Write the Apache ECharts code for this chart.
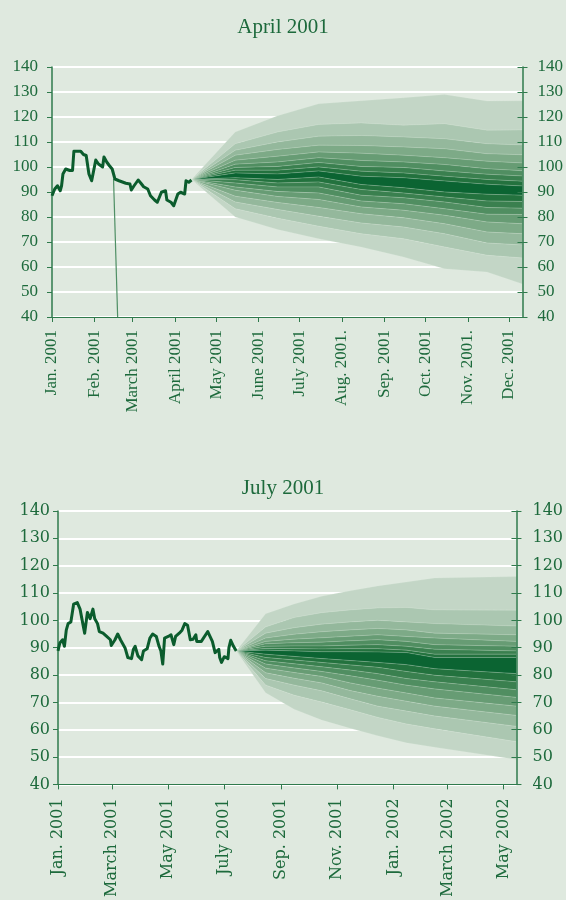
<!DOCTYPE html>
<html>
<head>
<meta charset="utf-8">
<script src="https://cdn.jsdelivr.net/npm/echarts@6/dist/echarts.min.js"></script>
<style>
html, body { margin: 0; padding: 0; background: #dfe9df; }
#chart { width: 566px; height: 900px; }
</style>
</head>
<body>
<div id="chart"></div>
<script>
// April 2001 chart: history
var aprDates = ['2001-01-01','2001-01-03','2001-01-05','2001-01-07','2001-01-08','2001-01-09','2001-01-11','2001-01-14','2001-01-16','2001-01-17',
    '2001-01-22','2001-01-24','2001-01-26','2001-01-28','2001-01-30','2001-02-02','2001-02-04','2001-02-07','2001-02-08','2001-02-10',
    '2001-02-12','2001-02-14','2001-02-16','2001-02-19','2001-02-24','2001-02-27','2001-02-28','2001-03-02','2001-03-05','2001-03-07',
    '2001-03-09','2001-03-12','2001-03-14','2001-03-17','2001-03-19','2001-03-22','2001-03-25','2001-03-26','2001-03-29','2001-03-31',
    '2001-04-03','2001-04-05','2001-04-08','2001-04-09','2001-04-11','2001-04-13'];
var aprValues = [88.5,91.2,92.5,90.5,92.5,97.2,99.2,98.6,98.6,106.3,
    106.3,105,104.6,97.2,94.5,102.8,101.2,100,104,102,
    100.5,99.2,95.2,94.5,93.5,93.2,90.8,92.5,94.8,93.5,
    92.1,91.2,88.5,86.8,85.9,89.9,90.5,86.8,85.9,84.5,
    89.2,89.9,89.2,94.5,93.9,94.8];
// thin stray line in the original graphic
var aprSpikeDates = ['2001-02-15','2001-02-18'];
var aprSpikeValues = [95.2, 40];

// April 2001 chart: fan bands, boundaries from top to bottom
var aprFanDates = ['2001-04-13','2001-05-15','2001-06-15','2001-07-15','2001-08-15','2001-09-15','2001-10-15','2001-11-15','2001-12-11'];
var aprFanBounds = [
    [95,95,95,95,95,95,95,95,95,95,95,95,95,95,95,95,95,95],
    [114,109.3,106.7,104.7,102.7,101.1,99.8,98.7,97.6,95.7,94.9,93.6,92,90.7,88.3,86,83.3,80],
    [120.5,114,110,107,104.3,102,100.2,98.7,97.2,95,93.6,92,90.2,88.2,85.8,83,79.5,75],
    [125.3,117,112.3,108.7,106,103.7,101.8,100,98.4,96,94,92,89.6,87,83.8,80.3,76.3,71.3],
    [126.5,117.6,112.6,108.6,105.5,102.6,100.2,98.3,96.3,93,91,88.7,86.4,84,81.3,77.6,73.3,68],
    [127.7,116.7,112,108,104.7,102,99.8,97.6,95.7,91.7,89.6,87.7,85.3,82.7,79.7,76,71.3,64],
    [129,117.3,111.3,107.3,103.7,101,98.4,96.3,94.4,90,88,86,83.3,80.7,77.3,73.3,68,59.3],
    [126.4,114.7,109.3,105.3,102.3,99.3,97.1,95,93.1,89.1,86.4,83.8,81.1,78,74,69.6,64.7,58],
    [126.5,114.8,108.8,104.9,101.6,98.5,96.4,94.3,92.4,88.7,86.2,83.5,81,77.3,73.3,68.8,63.6,53.2]
];
var aprTickDates = ['2001-01-01','2001-02-01','2001-03-01','2001-04-01','2001-05-01','2001-06-01',
    '2001-07-01','2001-08-01','2001-09-01','2001-10-01','2001-11-01','2001-12-01'];
var aprTickLabels = ['Jan. 2001','Feb. 2001','March 2001','April 2001','May 2001','June 2001',
    'July 2001','Aug. 2001.','Sep. 2001','Oct. 2001','Nov. 2001.','Dec. 2001'];

// July 2001 chart: history
var julDates = ['2001-01-01','2001-01-03','2001-01-06','2001-01-08','2001-01-10','2001-01-12','2001-01-15','2001-01-17','2001-01-18','2001-01-22',
    '2001-01-25','2001-01-28','2001-01-30','2001-02-02','2001-02-05','2001-02-08','2001-02-10','2001-02-13','2001-02-15','2001-02-19',
    '2001-02-23','2001-02-27','2001-02-28','2001-03-04','2001-03-07','2001-03-10','2001-03-15','2001-03-18','2001-03-22','2001-03-24',
    '2001-03-26','2001-03-29','2001-04-02','2001-04-04','2001-04-08','2001-04-11','2001-04-14','2001-04-18','2001-04-21','2001-04-23',
    '2001-04-25','2001-04-27','2001-05-01','2001-05-02','2001-05-04','2001-05-07','2001-05-09','2001-05-13','2001-05-16','2001-05-19',
    '2001-05-22','2001-05-25','2001-05-28','2001-05-31','2001-06-01','2001-06-06','2001-06-08','2001-06-13','2001-06-15','2001-06-18',
    '2001-06-21','2001-06-25','2001-06-26','2001-06-28','2001-07-01','2001-07-05','2001-07-06','2001-07-08','2001-07-11','2001-07-14'];
var julValues = [88.8,91.7,92.9,90.5,96.4,98.8,99.4,98.8,105.9,106.5,
    104.1,98.8,95.3,102.9,100.6,104.1,100.6,98.8,95.9,95.3,
    94.1,92.9,90.8,92.9,95,92.9,89.9,86.4,86,89.3,
    90.5,87,85.6,88.8,89.6,93.5,95,94.1,90.5,88.8,
    84,93.5,94.1,93.5,94.7,91.1,94.1,95.3,96.4,98.8,
    98.2,92.9,93.1,94.7,92.3,92.3,91.7,95.9,95.3,92.3,
    88.2,89.4,86.4,84.6,86.7,86,89.9,92.7,90.5,88.8];

// July 2001 chart: fan bands, boundaries from top to bottom
var julFanDates = ['2001-07-14','2001-08-15','2001-09-15','2001-10-15','2001-11-15','2001-12-15','2002-01-15','2002-02-15','2002-05-15'];
var julFanBounds = [
    [88.8,88.8,88.8,88.8,88.8,88.8,88.8,88.8,88.8,88.8,88.8,88.8,88.8,88.8,88.8,88.8,88.8,88.8],
    [102.4,97.6,95.3,93.5,92.3,91.4,90.5,89.7,89.1,87.6,86.4,85.2,84,82.5,80.8,78.7,76.3,73.5],
    [106,101,97.3,94.9,93.1,91.8,90.6,89.6,88.8,86.8,85.5,84.1,82.6,80.9,78.8,76.3,72.6,67.5],
    [108.8,102.8,98.6,95.8,93.6,92,90.6,89.5,88.5,86,84.6,83,81.3,79.5,77.1,74.2,70.1,63.5],
    [110.8,103.8,99.4,96.5,94.2,92.5,90.9,89.6,88.5,85.3,83.7,81.8,79.7,77.1,74.3,71.3,67.3,60.5],
    [112.6,104.5,100,97,94.7,92.9,91.1,89.6,88.4,84.6,82.8,80.5,78.1,75.2,72.2,68.6,64.5,57.8],
    [114,104.7,99.4,96.5,94.1,92.3,90.5,89.1,88.2,83.8,81.3,78.7,76.3,73.4,70.4,66.8,62.1,55.2],
    [115.5,103.8,98.8,95.3,93.5,91.1,89.4,87.6,86.4,82.3,79.9,77.5,74.9,71.6,68.6,65,60.3,53.6],
    [116,103.7,97.9,94.7,92.3,90.5,88.8,87.6,86.4,80.5,77.5,74.6,71.8,68.6,65.2,61.2,55.6,49.1]
];
var julTickDates = ['2001-01-01','2001-03-01','2001-05-01','2001-07-01','2001-09-01','2001-11-01',
    '2002-01-01','2002-03-01','2002-05-01'];
var julTickLabels = ['Jan. 2001','March 2001','May 2001','July 2001','Sep. 2001','Nov. 2001',
    'Jan. 2002','March 2002','May 2002'];

// band shades, outer (light) to centre (dark)
var shades = ['#c3d6c6','#abc7b1','#94b89c','#7daa87','#679c74','#508e61','#3a804f','#23723e','#0b6432'];

var bgColor = '#dfe9df';
var textColor = '#1d6a3c';
var axisColor = '#2f7a4c';
var lineColor = '#0b5c2d';

function toTime(s) {
    var p = s.split('-');
    return new Date(+p[0], +p[1] - 1, +p[2]).getTime();
}
function pairs(dates, values) {
    var out = [];
    for (var i = 0; i < dates.length; i++) {
        out.push([toTime(dates[i]), values[i]]);
    }
    return out;
}

// one polygon per band, between boundary k and k+1
function fanSeries(axisIdx, dates, bounds) {
    var times = dates.map(toTime);
    var nBands = bounds[0].length - 1;
    var items = [];
    for (var k = 0; k < nBands; k++) {
        items.push([k, 0]);
    }
    return {
        type: 'custom', xAxisIndex: axisIdx, yAxisIndex: axisIdx * 3,
        silent: true, z: 2, data: items,
        renderItem: function (params, api) {
            var k = api.value(0);
            var pts = [];
            for (var j = 0; j < times.length; j++) {
                pts.push(api.coord([times[j], bounds[j][k]]));
            }
            for (var j2 = times.length - 1; j2 >= 0; j2--) {
                pts.push(api.coord([times[j2], bounds[j2][k + 1]]));
            }
            var mid = (nBands - 1) / 2;
            var shade = shades[Math.round(mid - Math.abs(k - mid))];
            return {
                type: 'polygon',
                shape: { points: pts },
                style: { fill: shade, stroke: 'rgba(225,238,226,0.35)', lineWidth: 0.5 }
            };
        }
    };
}

function xAxisFor(gridIdx, minDate, maxDate, tickDates, tickLabels, font, size, margin) {
    var ticks = tickDates.map(toTime);
    return {
        type: 'value', gridIndex: gridIdx,
        min: toTime(minDate), max: toTime(maxDate),
        axisLine: { lineStyle: { color: axisColor, width: 1.2 } },
        axisTick: { show: true, length: 5, lineStyle: { color: axisColor }, customValues: ticks },
        axisLabel: {
            customValues: ticks, rotate: 90, margin: margin,
            color: textColor, fontFamily: font, fontSize: size,
            formatter: function (v) {
                var i = ticks.indexOf(v);
                return i >= 0 ? tickLabels[i] : '';
            }
        },
        splitLine: { show: false }
    };
}

function yAxesFor(gridIdx, font, size, leftMargin, rightMargin) {
    var common = {
        type: 'value', gridIndex: gridIdx, min: 40, max: 140, interval: 10
    };
    var left = Object.assign({}, common, {
        position: 'left',
        axisLine: { show: true, lineStyle: { color: axisColor, width: 1.5 } },
        axisTick: { show: true, length: 5, lineStyle: { color: axisColor } },
        axisLabel: { color: textColor, fontFamily: font, fontSize: size, margin: leftMargin },
        splitLine: { show: true, lineStyle: { color: '#ffffff', width: 2 } }
    });
    var right = Object.assign({}, common, {
        position: 'right', z: 10,
        axisLine: { show: true, lineStyle: { color: axisColor, width: 1.5 } },
        axisTick: { show: true, length: 5, lineStyle: { color: axisColor } },
        axisLabel: { color: textColor, fontFamily: font, fontSize: size, margin: rightMargin },
        splitLine: { show: false }
    });
    var rightIn = Object.assign({}, common, {
        position: 'right', z: 10,
        axisLine: { show: false },
        axisTick: { show: true, inside: true, length: 5, lineStyle: { color: axisColor } },
        axisLabel: { show: false },
        splitLine: { show: false }
    });
    return [left, right, rightIn];
}

var myChart = echarts.init(document.getElementById('chart'));

var series = [
    fanSeries(0, aprFanDates, aprFanBounds),
    {
        type: 'line', xAxisIndex: 0, yAxisIndex: 0, data: pairs(aprSpikeDates, aprSpikeValues),
        symbol: 'none', silent: true, z: 3, lineStyle: { color: '#4f8f65', width: 1.2 }
    },
    {
        type: 'line', xAxisIndex: 0, yAxisIndex: 0, data: pairs(aprDates, aprValues),
        symbol: 'none', silent: true, z: 4, lineStyle: { color: lineColor, width: 3, join: 'round' }
    },
    fanSeries(1, julFanDates, julFanBounds),
    {
        type: 'line', xAxisIndex: 1, yAxisIndex: 3, data: pairs(julDates, julValues),
        symbol: 'none', silent: true, z: 4, lineStyle: { color: lineColor, width: 3, join: 'round' }
    }
];

var option = {
    backgroundColor: bgColor,
    animation: false,
    title: [
        { text: 'April 2001', left: 'center', top: 12,
          textStyle: { color: textColor, fontFamily: 'Liberation Serif', fontSize: 21, fontWeight: 'normal' } },
        { text: 'July 2001', left: 'center', top: 473,
          textStyle: { color: textColor, fontFamily: 'Liberation Serif', fontSize: 21, fontWeight: 'normal' } }
    ],
    grid: [
        { left: 52, top: 67, width: 471, height: 250 },
        { left: 58, top: 511, width: 460, height: 281 }
    ],
    xAxis: [
        xAxisFor(0, '2001-01-01', '2001-12-11', aprTickDates, aprTickLabels, 'Liberation Serif', 17, 13),
        xAxisFor(1, '2001-01-01', '2002-05-15', julTickDates, julTickLabels, 'DejaVu Serif', 16, 14)
    ],
    yAxis: yAxesFor(0, 'Liberation Serif', 17, 14, 15).concat(yAxesFor(1, 'DejaVu Serif', 16, 8, 16)),
    series: series
};
myChart.setOption(option);
</script>
</body>
</html>
